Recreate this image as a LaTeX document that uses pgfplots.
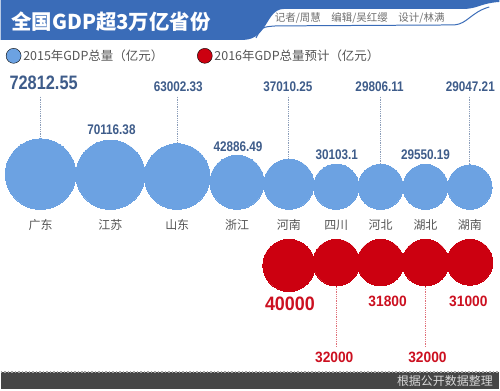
\documentclass[border=0pt]{standalone}
\usepackage{pgfplots}
\pgfplotsset{compat=1.18}
\usepackage{pgfplotstable}
\usepackage{fontspec}
\setmainfont{Liberation Sans}
\newfontfamily\cjk{Noto Sans CJK SC}
\newfontfamily\bnum[FakeStretch=0.84]{Liberation Sans Bold}
\newfontfamily\rnum[FakeStretch=0.92]{Liberation Sans Bold}
\definecolor{banner}{HTML}{3A6CB8}
\definecolor{bluec}{HTML}{6CA2E2}
\definecolor{redc}{HTML}{CC0010}
\definecolor{bluetxt}{HTML}{3E5C8A}
\definecolor{redtxt}{HTML}{CC1020}
\definecolor{graytxt}{HTML}{555555}
\definecolor{footer}{HTML}{464646}

% 2015 GDP (100 million yuan)
\pgfplotstableread{
x v
40 72812.55
110 70116.38
177 63002.33
237 42886.49
289 37010.25
336.5 30103.1
381 29806.11
426 29550.19
470.5 29047.21
}\bluedata
% 2016 GDP forecast
\pgfplotstableread{
x v
289 40000
336.5 32000
381 31800
426 32000
470.5 31000
}\reddata

\begin{document}
\begin{tikzpicture}
\begin{axis}[
  scale only axis, width=500pt, height=390pt,
  xmin=0, xmax=500, ymin=0, ymax=390, y dir=reverse,
  axis lines=none, clip=false,
  axis background/.style={fill=white},
  legend style={at={(axis cs:5,56)}, anchor=west, draw=none, fill=none,
    legend columns=2, font=\cjk\fontsize{12.5}{14}\selectfont, text=graytxt,
    inner sep=0pt, /tikz/column 2/.style={column sep=32pt}},
  legend image code/.code={\fill[#1] (7.5pt,0pt) circle (7.5pt);},
]
% header banner
\fill[banner] (axis cs:0,0) -- (axis cs:500,0) -- (axis cs:500,2)
  .. controls (axis cs:482,3) and (axis cs:478,9) .. (axis cs:464,9)
  -- (axis cs:284,9)
  .. controls (axis cs:266,9) and (axis cs:268,39) .. (axis cs:244,40)
  -- (axis cs:0,40) -- cycle;
\draw[banner, line width=1pt] (axis cs:256,38) .. controls (axis cs:262,27) .. (axis cs:276,26)
  -- (axis cs:455,25) .. controls (axis cs:468,24) and (axis cs:472,12) .. (axis cs:490,7);
\node[anchor=west, text=white, font=\cjk\bfseries\fontsize{20.5}{22}\selectfont] at (axis cs:7,22) {全国GDP超3万亿省份};
\node[text=graytxt!85, font=\cjk\fontsize{10.5}{12}\selectfont] at (axis cs:298,18) {记者/周慧};
\node[text=graytxt!85, font=\cjk\fontsize{10.5}{12}\selectfont] at (axis cs:360,18) {编辑/吴红缨};
\node[text=graytxt!85, font=\cjk\fontsize{10.5}{12}\selectfont] at (axis cs:422,18) {设计/林满};

% legend
\addlegendimage{fill=bluec}
\addlegendentry{2015年GDP总量（亿元）}
\addlegendimage{fill=redc}
\addlegendentry{2016年GDP总量预计（亿元）}

% dotted leaders
\draw[bluetxt!60, densely dotted, line width=0.8pt] (axis cs:40,97) -- (axis cs:40,139);
\draw[bluetxt!60, densely dotted, line width=0.8pt] (axis cs:177,97) -- (axis cs:177,144);
\draw[bluetxt!60, densely dotted, line width=0.8pt] (axis cs:289,97) -- (axis cs:289,160);
\draw[bluetxt!60, densely dotted, line width=0.8pt] (axis cs:381,97) -- (axis cs:381,166);
\draw[bluetxt!60, densely dotted, line width=0.8pt] (axis cs:470.5,97) -- (axis cs:470.5,166);
\draw[redtxt!60, densely dotted, line width=0.8pt] (axis cs:336.5,286) -- (axis cs:336.5,348);
\draw[redtxt!60, densely dotted, line width=0.8pt] (axis cs:426,286) -- (axis cs:426,348);

% 2015 circles (area proportional, bottoms aligned)
\addplot[forget plot, only marks, scatter, mark=*,
  mark options={draw=bluec, fill=bluec, line width=0pt},
  scatter/use mapped color={draw=bluec, fill=bluec},
  visualization depends on={0.131*sqrt(\thisrow{v})\as\perpointr},
  scatter/@pre marker code/.append style={/tikz/mark size=\perpointr pt}]
  table[x=x, y expr={210-0.131*sqrt(\thisrow{v})}] {\bluedata};
% 2016 circles (tops aligned)
\addplot[forget plot, only marks, scatter, mark=*,
  mark options={draw=redc, fill=redc, line width=0pt},
  scatter/use mapped color={draw=redc, fill=redc},
  visualization depends on={0.131*sqrt(\thisrow{v})\as\perpointr},
  scatter/@pre marker code/.append style={/tikz/mark size=\perpointr pt}]
  table[x=x, y expr={240+0.131*sqrt(\thisrow{v})}] {\reddata};

% value labels 2015
\begin{scope}[every node/.style={text=bluetxt, font=\bnum\fontsize{14}{14}\selectfont}]
\node[font=\bnum\fontsize{19.5}{20}\selectfont] at (axis cs:43,83) {72812.55};
\node at (axis cs:111,130) {70116.38};
\node at (axis cs:178,87) {63002.33};
\node at (axis cs:238,147) {42886.49};
\node at (axis cs:288,87) {37010.25};
\node at (axis cs:337,155) {30103.1};
\node at (axis cs:380,87) {29806.11};
\node at (axis cs:426,155) {29550.19};
\node at (axis cs:471,87) {29047.21};
\end{scope}
% value labels 2016
\begin{scope}[every node/.style={text=redtxt, font=\rnum\fontsize{15}{15}\selectfont}]
\node[font=\rnum\fontsize{19.5}{20}\selectfont] at (axis cs:290,304.5) {40000};
\node at (axis cs:334.5,358) {32000};
\node at (axis cs:388,302) {31800};
\node at (axis cs:428,358) {32000};
\node at (axis cs:469,302) {31000};
\end{scope}
% province labels
\begin{scope}[every node/.style={text=graytxt, font=\cjk\fontsize{12}{13}\selectfont}]
\node at (axis cs:40,226) {广东};
\node at (axis cs:110,226) {江苏};
\node at (axis cs:177,226) {山东};
\node at (axis cs:237,226) {浙江};
\node at (axis cs:289,226) {河南};
\node at (axis cs:336.5,226) {四川};
\node at (axis cs:381,226) {河北};
\node at (axis cs:426,226) {湖北};
\node at (axis cs:470.5,226) {湖南};
\end{scope}

% footer
\fill[footer] (axis cs:0,373) rectangle (axis cs:500,390);
\draw[gray!70, dotted, line width=1.5pt] (axis cs:0,373) -- (axis cs:500,373);
\node[anchor=east, text=white!85!black, font=\cjk\fontsize{12}{13}\selectfont] at (axis cs:497,382.5) {根据公开数据整理};
\end{axis}
\end{tikzpicture}
\end{document}
